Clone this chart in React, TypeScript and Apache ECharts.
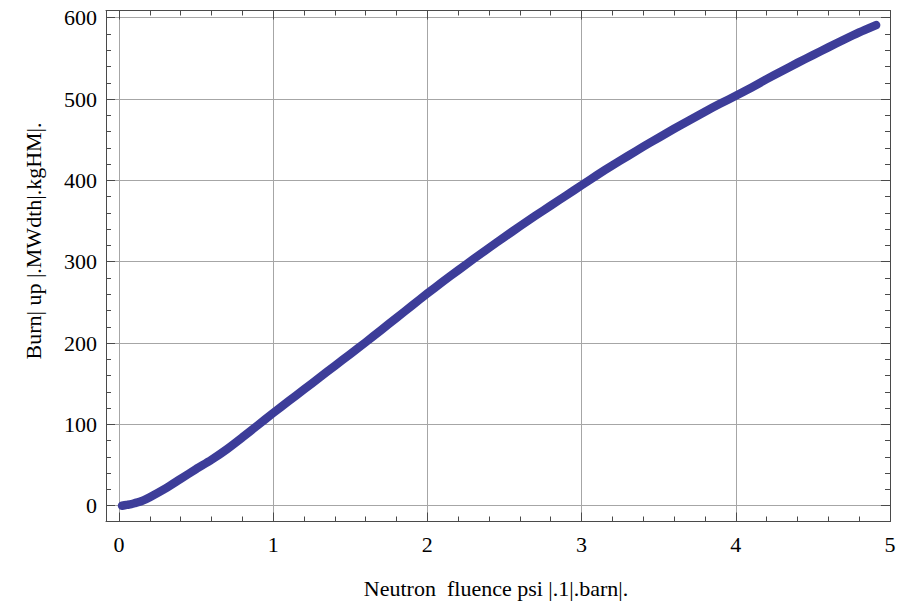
import React, { useEffect, useRef } from "react";
import * as echarts from "echarts";

const fluence: number[] = [
  0.02, 0.05, 0.08, 0.1, 0.15, 0.2, 0.3, 0.4, 0.5, 0.6, 0.7, 0.8, 0.9, 1.0,
  1.1, 1.2, 1.3, 1.4, 1.5, 1.6, 1.7, 1.8, 1.9, 2.0, 2.1, 2.2, 2.3, 2.4, 2.5,
  2.6, 2.7, 2.8, 2.9, 3.0, 3.1, 3.2, 3.3, 3.4, 3.5, 3.6, 3.7, 3.8, 3.9, 4.0,
  4.1, 4.2, 4.3, 4.4, 4.5, 4.6, 4.7, 4.8, 4.91,
];
const burnup: number[] = [
  0, 1, 2, 3, 6, 10.5, 21, 33, 45, 56.5, 69.5, 84, 99, 114,
  128.5, 143, 157.5, 172, 186.5, 201, 216, 231, 246, 261, 275.5, 289.5, 303.5, 317, 330.5,
  343.5, 356.5, 369, 381.5, 394, 406.5, 418.5, 430, 441.5, 452.5, 463.5, 474, 484.5, 494.5, 504,
  514, 524.5, 534.5, 544.5, 554, 563.5, 573, 582, 591,
];

const X_MIN = -0.084;
const X_MAX = 5.0;
const Y_MIN = -19.4;
const Y_MAX = 608.9;

const FRAME = "#4a4a4a";
const GRID = "#a6a6a6";
const TEXT = "#000000";
const FONT = "'Liberation Serif', 'Times New Roman', Times, serif";
const CURVE = "#3d3d99";

export default function App() {
  const ref = useRef<HTMLDivElement>(null);
  useEffect(() => {
    if (!ref.current) return;
    const chart = echarts.init(ref.current, null, { renderer: "svg" });
    const data = fluence.map((x, i) => [x, burnup[i]]);

    const xAx = (pos: "top" | "bottom", major: boolean, primary: boolean) => ({
      type: "value",
      position: pos,
      min: X_MIN,
      max: X_MAX,
      splitNumber: major ? 5 : 25,
      minInterval: major ? 1 : 0.2,
      maxInterval: major ? 1 : 0.2,
      axisLine: { show: major, onZero: false, lineStyle: { color: FRAME, width: 1 } },
      axisTick: { show: true, inside: true, length: major ? 9 : 5, lineStyle: { color: FRAME, width: 1 } },
      axisLabel: {
        show: primary,
        showMinLabel: false,
        showMaxLabel: true,
        margin: 12,
        color: TEXT,
        fontSize: 22,
        fontFamily: FONT,
      },
      splitLine: { show: primary, lineStyle: { color: GRID, width: 1 } },
    });
    const yAx = (pos: "left" | "right", major: boolean, primary: boolean) => ({
      type: "value",
      position: pos,
      min: Y_MIN,
      max: Y_MAX,
      splitNumber: major ? 6 : 30,
      minInterval: major ? 100 : 20,
      maxInterval: major ? 100 : 20,
      axisLine: { show: major, onZero: false, lineStyle: { color: FRAME, width: 1 } },
      axisTick: { show: true, inside: true, length: major ? 9 : 5, lineStyle: { color: FRAME, width: 1 } },
      axisLabel: {
        show: primary,
        showMinLabel: false,
        showMaxLabel: false,
        margin: 9,
        color: TEXT,
        fontSize: 22,
        fontFamily: FONT,
      },
      splitLine: { show: primary, lineStyle: { color: GRID, width: 1 } },
    });

    const rich = {
      b: { color: "#c0c0c0", fontSize: 22, fontFamily: FONT },
    };

    chart.setOption({
      animation: false,
      backgroundColor: "#ffffff",
      textStyle: { fontFamily: FONT },
      grid: {
        left: 106,
        right: 12,
        top: 10.5,
        bottom: 82.5,
        outerBoundsMode: "none",
        containLabel: false,
      },
      xAxis: [
        xAx("bottom", true, true),
        xAx("bottom", false, false),
        xAx("top", true, false),
        xAx("top", false, false),
      ],
      yAxis: [
        yAx("left", true, true),
        yAx("left", false, false),
        yAx("right", true, false),
        yAx("right", false, false),
      ],
      series: [
        {
          type: "line",
          xAxisIndex: 0,
          yAxisIndex: 0,
          data,
          showSymbol: false,
          smooth: 0.25,
          lineStyle: { color: CURVE, width: 8.5, cap: "round", join: "round" },
          silent: true,
        },
      ],
      graphic: [
        {
          type: "text",
          x: 496,
          y: 588,
          style: {
            text: "Neutron  fluence psi {b||}.1{b||}.barn{b||}.",
            rich,
            fill: TEXT,
            fontSize: 22,
            fontFamily: FONT,
            align: "center",
            verticalAlign: "middle",
          },
        },
        {
          type: "text",
          x: 33,
          y: 241,
          rotation: Math.PI / 2,
          style: {
            text: "Burn{b||} up {b||}.MWdth{b||}.kgHM{b||}.",
            rich,
            fill: TEXT,
            fontSize: 22,
            fontFamily: FONT,
            align: "center",
            verticalAlign: "middle",
          },
        },
      ],
    });
    return () => chart.dispose();
  }, []);
  return (
    <div
      ref={ref}
      style={{ position: "fixed", left: 0, top: 0, width: 902, height: 604, background: "#fff" }}
    />
  );
}
